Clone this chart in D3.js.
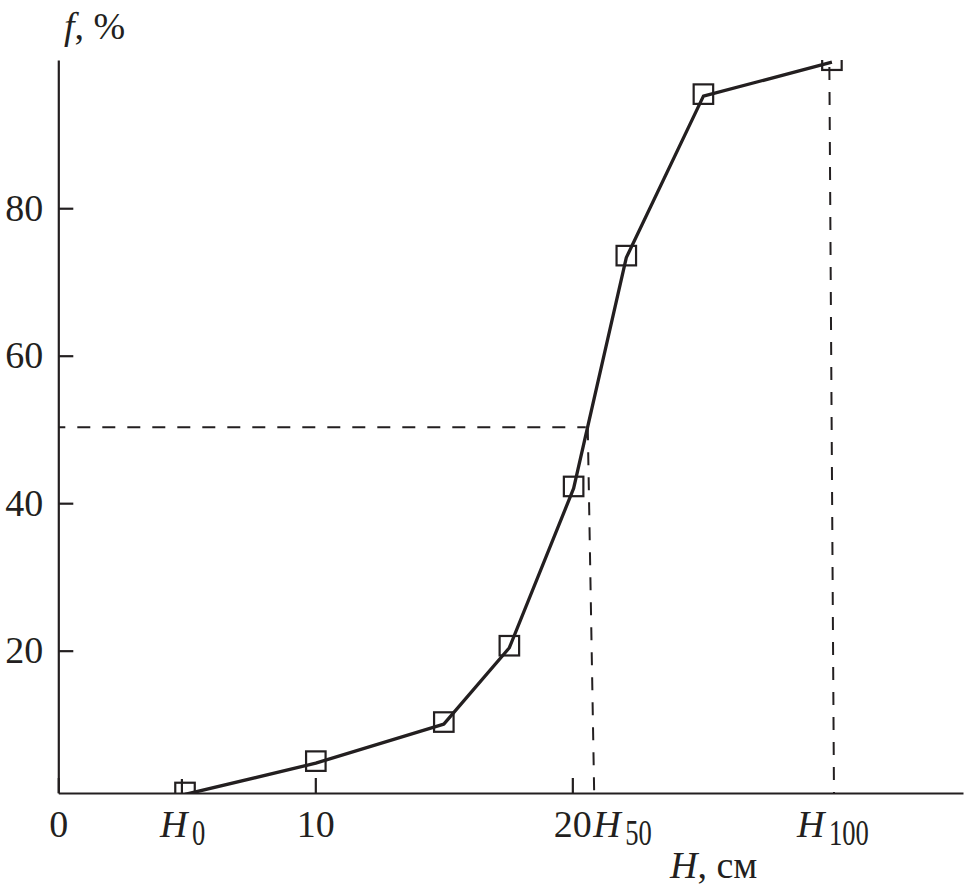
<!DOCTYPE html>
<html>
<head>
<meta charset="utf-8">
<script src="https://cdn.jsdelivr.net/npm/d3@7"></script>
<style>
  html, body { margin: 0; padding: 0; background: #fff; }
  svg { display: block; }
  text { font-family: "Liberation Serif", "Times New Roman", serif; fill: #231f20; }
</style>
</head>
<body>
<svg id="chart" width="965" height="896"></svg>
<script>
// ---- data ----
const heightH = [4.93, 10.02, 15.0, 17.55, 20.05, 22.1, 25.1, 30.1];    // H, cm
const fracF   = [0.5, 4.75, 10.05, 20.4, 42.0, 73.3, 95.2, 99.8];        // f, %
const yTickValues = [20, 40, 60, 80];
const xTickValues = [0, 10, 20];
const specialLabels = ["0", "50", "100"];          // subscripts of H
const specialValues = [4.81, 20.85, 30.18];        // where H0, H50, H100 sit on the axis
const f50 = 50.3;                                  // the 50 % level
const h50Guide = [20.6, 20.85];                    // top, bottom of H50 guide
const h100Guide = [30.0, 30.18];                   // top, bottom of H100 guide
const h100Top = 99.7;

const ink = "#231f20";
const svg = d3.select("#chart");
const x = d3.scaleLinear().domain([0, 35.2]).range([58.3, 963]);
const y = d3.scaleLinear().domain([0.7, 100.1]).range([793, 60]);

// clip for data marks
svg.append("defs").append("clipPath").attr("id", "plot")
  .append("rect").attr("x", x(0)).attr("y", y(100.1))
  .attr("width", x(35.2) - x(0)).attr("height", y(0.7) - y(100.1));

// ---- guides ----
const guides = svg.append("g").attr("fill", "none").attr("stroke", ink)
  .attr("stroke-width", 2).attr("stroke-dasharray", "13,12");
guides.append("line").attr("x1", x(0)).attr("y1", y(f50))
  .attr("x2", x(h50Guide[0]) - 2).attr("y2", y(f50)).attr("stroke-dashoffset", 6);
guides.append("line").attr("x1", x(h50Guide[0])).attr("y1", y(f50))
  .attr("x2", x(h50Guide[1])).attr("y2", y(0.7));
guides.append("line").attr("x1", x(h100Guide[0])).attr("y1", y(h100Top))
  .attr("x2", x(h100Guide[1])).attr("y2", y(0.7)).attr("stroke-dashoffset", -4);

// ---- data line and markers ----
const pts = heightH.map((h, i) => [h, fracF[i]]);
const plotG = svg.append("g").attr("clip-path", "url(#plot)");
plotG.append("path").datum(pts)
  .attr("fill", "none").attr("stroke", ink).attr("stroke-width", 3.3)
  .attr("stroke-linejoin", "round")
  .attr("d", d3.line().x(d => x(d[0])).y(d => y(d[1])));
const s = 19.5;
plotG.selectAll("rect.m").data(pts).join("rect").attr("class", "m")
  .attr("x", d => x(d[0]) - s / 2).attr("y", d => y(d[1]) - s / 2 - 2)
  .attr("width", s).attr("height", s)
  .attr("fill", "none").attr("stroke", ink).attr("stroke-width", 2.2);

// ---- axes ----
const yAxis = svg.append("g").attr("transform", `translate(${x(0)},0)`)
  .call(d3.axisLeft(y).tickValues(yTickValues).tickSizeInner(-15).tickSizeOuter(0).tickPadding(15));
const xAxis = svg.append("g").attr("transform", `translate(0,${y(0.7)})`)
  .call(d3.axisBottom(x).tickValues(xTickValues).tickSizeInner(-15).tickSizeOuter(0).tickPadding(17));
[yAxis, xAxis].forEach(a => {
  a.select(".domain").attr("stroke", ink).attr("stroke-width", 2.2);
  a.selectAll(".tick line").attr("stroke", ink).attr("stroke-width", 2.2);
  a.selectAll(".tick text").attr("font-family", "Liberation Serif, serif")
    .attr("font-size", 38).attr("fill", ink);
});
// extra tick at H0
xAxis.append("line").attr("x1", x(specialValues[0])).attr("x2", x(specialValues[0]))
  .attr("y1", 0).attr("y2", -14).attr("stroke", ink).attr("stroke-width", 2.2);

// ---- H labels ----
const hOffsets = [-22, -1, -37];
specialValues.forEach((v, i) => {
  const x0 = x(v) + hOffsets[i];
  svg.append("text").attr("x", x0).attr("y", 837)
    .attr("font-size", 38).attr("font-style", "italic").text("H");
  svg.append("text").attr("transform", `translate(${x0 + 32},845) scale(0.7,0.97)`)
    .attr("font-size", 38).text(specialLabels[i]);
});

// ---- axis titles ----
const xt = svg.append("text").attr("x", 670).attr("y", 878).attr("font-size", 38);
xt.append("tspan").attr("font-style", "italic").text("H");
xt.append("tspan").text(", см");
const yt = svg.append("text").attr("x", 64).attr("y", 39).attr("font-size", 38);
yt.append("tspan").attr("font-style", "italic").text("f");
yt.append("tspan").text(", %");
</script>
</body>
</html>
